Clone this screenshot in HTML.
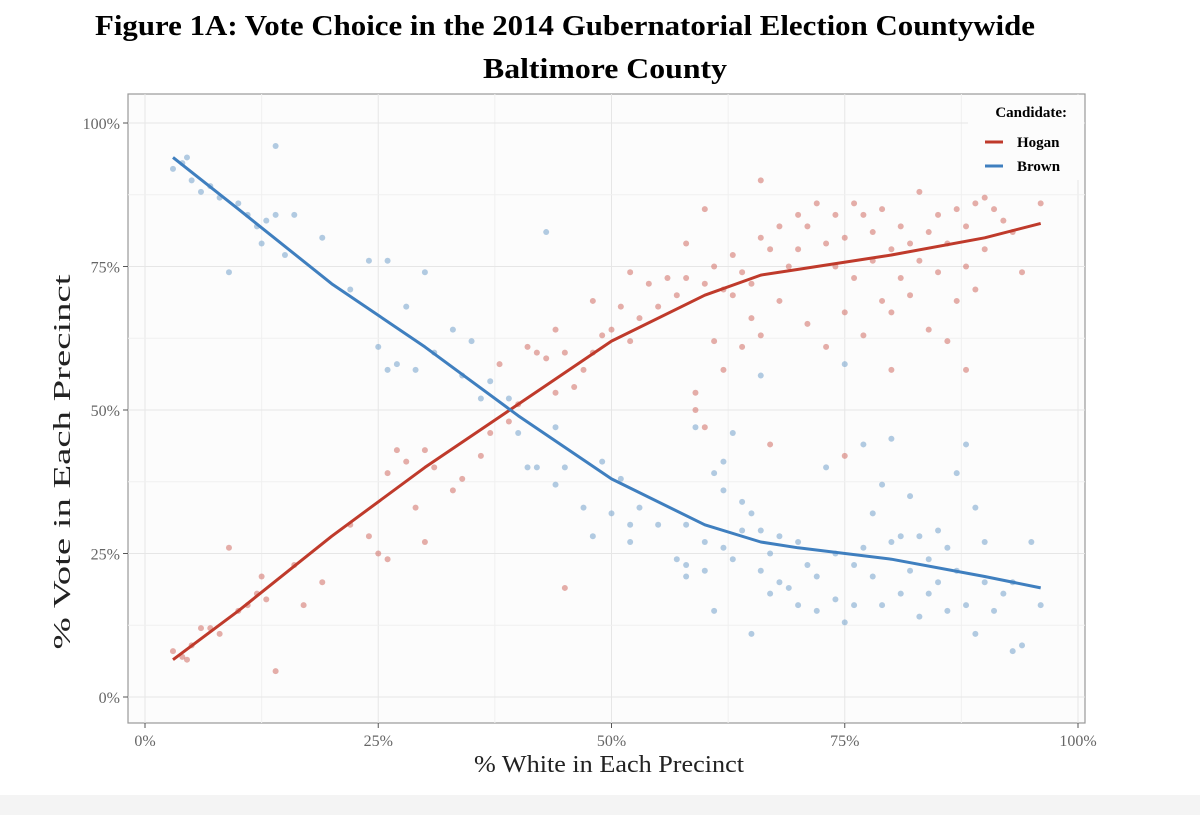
<!DOCTYPE html>
<html><head><meta charset="utf-8"><style>
body{margin:0;background:#fff;}
svg{display:block;font-family:"Liberation Serif",serif;}
</style></head><body>
<svg id="chart" width="1200" height="815" viewBox="0 0 1200 815">
<rect x="0" y="795" width="1200" height="20" fill="#f4f4f4"/>
<text x="565" y="35" text-anchor="middle" font-size="29" font-weight="bold" textLength="940" lengthAdjust="spacingAndGlyphs">Figure 1A: Vote Choice in the 2014 Gubernatorial Election Countywide</text>
<text x="605" y="78" text-anchor="middle" font-size="28" font-weight="bold" textLength="244" lengthAdjust="spacingAndGlyphs">Baltimore County</text>
<rect x="128" y="94" width="957" height="629" fill="#fcfcfc" stroke="#999" stroke-width="1.2"/>
<g id="grid"></g>
<g id="axes"></g>
<g id="points"></g>
<g id="lines"></g>
<text x="609" y="772" text-anchor="middle" font-size="24" fill="#222" textLength="270" lengthAdjust="spacingAndGlyphs">% White in Each Precinct</text>
<text transform="translate(70,462) rotate(-90)" text-anchor="middle" font-size="24" fill="#222" textLength="375" lengthAdjust="spacingAndGlyphs">% Vote in Each Precinct</text>
<g>
<rect x="968" y="95" width="116" height="85" fill="#fcfcfc"/>
<text x="1067" y="117" text-anchor="end" font-size="15" font-weight="bold">Candidate:</text>
<line x1="985" y1="142" x2="1003" y2="142" stroke="#bf3a2b" stroke-width="3"/>
<text x="1017" y="147" font-size="15" font-weight="bold">Hogan</text>
<line x1="985" y1="166" x2="1003" y2="166" stroke="#3f7fbf" stroke-width="3"/>
<text x="1017" y="171" font-size="15" font-weight="bold">Brown</text>
</g>
</svg>
<script>
const xTicks=[0,25,50,75,100];
const yTicks=[0,25,50,75,100];
const hoganX=[3,4,4.5,5,6,7,8,9,10,11,12,12.5,13,14,16,17,19,22,24,25,26,26,27,28,29,30,30,31,33,34,36,37,38,39,40,41,42,43,44,44,45,45,46,47,48,48,49,50,51,52,52,53,54,55,56,57,58,58,59,59,60,60,61,61,62,62,63,63,64,64,65,65,66,66,66,67,67,68,68,69,70,70,71,71,72,73,73,74,74,75,75,76,76,77,77,78,78,79,79,80,80,80,81,81,82,82,83,83,84,84,85,85,86,86,87,87,88,88,89,89,90,90,91,92,93,94,96,88,75,60];
const hoganY=[8,7,6.5,9,12,12,11,26,15,16,18,21,17,4.5,23,16,20,30,28,25,24,39,43,41,33,43,27,40,36,38,42,46,58,48,51,61,60,59,53,64,19,60,54,57,60,69,63,64,68,62,74,66,72,68,73,70,79,73,53,50,85,72,62,75,71,57,77,70,74,61,66,72,80,63,90,44,78,69,82,75,84,78,65,82,86,79,61,84,75,80,67,86,73,84,63,76,81,69,85,78,57,67,82,73,79,70,88,76,64,81,74,84,79,62,85,69,75,82,71,86,87,78,85,83,81,74,86,57,42,47];
const brownX=[3,4,4.5,5,6,7,8,9,10,11,12,12.5,13,14,14,15,16,19,22,24,25,26,26,27,28,29,30,31,33,34,35,36,37,39,40,41,42,43,44,44,45,47,48,49,50,51,52,52,53,55,57,58,58,59,60,60,61,61,62,62,63,63,64,64,65,65,66,66,66,67,67,68,68,69,70,70,71,72,72,73,74,74,75,75,76,76,77,77,78,78,79,79,80,80,81,81,82,82,83,83,84,84,85,85,86,86,87,87,88,88,89,89,90,90,91,92,93,93,94,95,96,62,58];
const brownY=[92,93,94,90,88,89,87,74,86,84,82,79,83,96,84,77,84,80,71,76,61,76,57,58,68,57,74,60,64,56,62,52,55,52,46,40,40,81,37,47,40,33,28,41,32,38,30,27,33,30,24,30,21,47,27,22,39,15,26,41,46,24,29,34,32,11,22,56,29,18,25,28,20,19,16,27,23,21,15,40,25,17,58,13,23,16,26,44,21,32,16,37,27,45,28,18,22,35,14,28,24,18,29,20,15,26,39,22,44,16,33,11,20,27,15,18,8,20,9,27,16,36,23];
const hoganTrendX=[3,10,20,30,40,50,60,66,70,80,90,96];
const hoganTrendY=[6.5,15,28,40,51,62,70,73.5,74.5,77,80,82.5];
const brownTrendX=[3,10,20,30,40,50,60,66,70,80,90,96];
const brownTrendY=[94,85,72,61,49,38,30,27,26,24,21,19];

const NS="http://www.w3.org/2000/svg";
const sx=v=>145+v*9.33;
const sy=v=>697-v*5.74;
function mk(tag,attrs,parent){const e=document.createElementNS(NS,tag);for(const k in attrs)e.setAttribute(k,attrs[k]);document.getElementById(parent).appendChild(e);return e;}
xTicks.forEach((t,i)=>{
  const g=mk('line',{x1:sx(t),x2:sx(t),y1:94,y2:723,stroke:'#e6e6e6','stroke-width':1},'grid');
  
  
  if(i<xTicks.length-1){const m=mk('line',{x1:sx(t+12.5),x2:sx(t+12.5),y1:94,y2:723,stroke:'#f0f0f0','stroke-width':1},'grid');
  
  }
  const tk=mk('line',{x1:sx(t),x2:sx(t),y1:723,y2:728,stroke:'#555'},'axes');
  
  
  const tx=mk('text',{x:sx(t),y:746,'text-anchor':'middle','font-size':16,fill:'#666'},'axes');
  tx.textContent=t+'%';
  
  
});
yTicks.forEach((t,i)=>{
  const g=mk('line',{x1:128,x2:1085,y1:sy(t),y2:sy(t),stroke:'#e6e6e6','stroke-width':1},'grid');
  
  
  if(i<yTicks.length-1){const m=mk('line',{x1:128,x2:1085,y1:sy(t+12.5),y2:sy(t+12.5),stroke:'#f0f0f0','stroke-width':1},'grid');
  
  }
  const tk=mk('line',{x1:123,x2:128,y1:sy(t),y2:sy(t),stroke:'#555'},'axes');
  
  
  const tx=mk('text',{x:120,y:sy(t)+6,'text-anchor':'end','font-size':16,fill:'#666'},'axes');
  tx.textContent=t+'%';
  
  
});
hoganX.forEach((x,i)=>{
  const c=mk('circle',{cx:sx(x),cy:sy(hoganY[i]),r:3,fill:'#d4786f','fill-opacity':0.6},'points');
  
  
});
brownX.forEach((x,i)=>{
  const c=mk('circle',{cx:sx(x),cy:sy(brownY[i]),r:3,fill:'#7ea8cf','fill-opacity':0.6},'points');
  
  
});
function path(xs,ys){return xs.map((x,i)=>(i?'L':'M')+sx(x).toFixed(1)+','+sy(ys[i]).toFixed(1)).join(' ');}
const hl=mk('path',{d:path(hoganTrendX,hoganTrendY),fill:'none',stroke:'#bf3a2b','stroke-width':3,'stroke-linejoin':'round'},'lines');


const bl=mk('path',{d:path(brownTrendX,brownTrendY),fill:'none',stroke:'#3f7fbf','stroke-width':3,'stroke-linejoin':'round'},'lines');


</script>
</body></html>
